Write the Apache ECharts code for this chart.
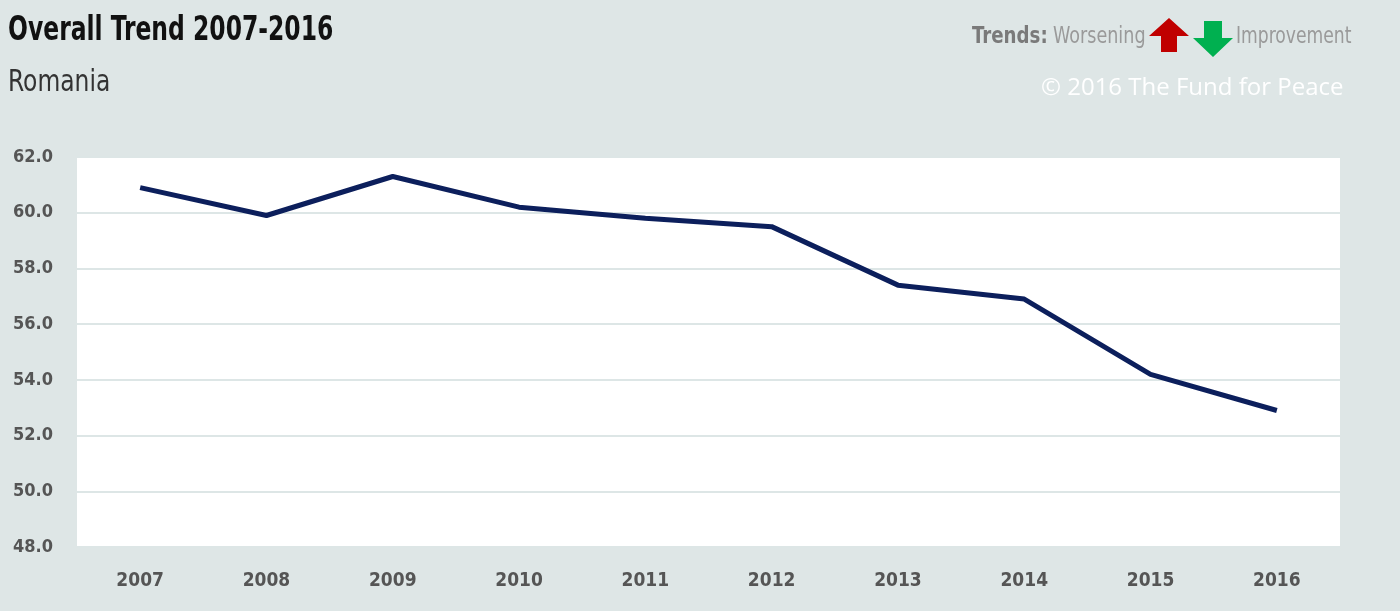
<!DOCTYPE html>
<html>
<head>
<meta charset="utf-8">
<script src="https://cdn.jsdelivr.net/npm/echarts@6/dist/echarts.min.js"></script>
<style>
html,body{margin:0;padding:0;background:#dee6e6;}
#c{width:1400px;height:611px;}
</style>
</head>
<body>
<div id="c"></div>
<script>
const years = ['2007','2008','2009','2010','2011','2012','2013','2014','2015','2016'];
const scores = [60.9, 59.9, 61.3, 60.2, 59.8, 59.5, 57.4, 56.9, 54.2, 52.9];
const yTicks = {min: 48, max: 62, interval: 2};

const narrow = '"DejaVu Sans Condensed", "Liberation Sans Narrow", sans-serif';
function txt(text, x, y, sx, size, weight, color, family) {
  return {type: 'text', x: x, y: y, scaleX: sx,
    style: {text: text, x: 0, y: 0, verticalAlign: 'top', align: 'left',
      fontFamily: family || narrow, fontWeight: weight, fontSize: size, fill: color}};
}
const chart = echarts.init(document.getElementById('c'));
chart.setOption({
  backgroundColor: '#dee6e6',
  animation: false,
  graphic: [
    txt('Overall Trend 2007-2016', 8, 15, 0.79, 33, 'bold', '#111'),
    txt('Romania', 8, 67, 0.84, 31, 'normal', '#333'),
    txt('Trends:', 972, 26, 0.88, 23, 'bold', '#7a7a7a'),
    txt('Worsening', 1053, 26, 0.85, 23, 'normal', '#9a9a9a'),
    txt('Improvement', 1236, 26, 0.83, 23, 'normal', '#9a9a9a'),
    txt('© 2016 The Fund for Peace', 1041, 76, 1, 24, 'normal', '#ffffff', '"Open Sans", sans-serif'),
    {type: 'polygon', shape: {points: [[1169,18],[1189,36],[1177,36],[1177,52],[1161,52],[1161,36],[1149,36]]},
     style: {fill: '#c00000'}},
    {type: 'polygon', shape: {points: [[1204,21],[1222,21],[1222,38],[1233,38],[1213,57],[1193,38],[1204,38]]},
     style: {fill: '#00b050'}}
  ],
  grid: {left: 77, right: 60, top: 157, bottom: 64, show: true, backgroundColor: '#ffffff', borderWidth: 0},
  xAxis: {
    type: 'category', data: years, boundaryGap: true,
    axisLine: {show: false}, axisTick: {show: false},
    axisLabel: {fontFamily: narrow, fontWeight: 'bold', fontSize: 19, color: '#555', margin: 25}
  },
  yAxis: {
    type: 'value', min: yTicks.min, max: yTicks.max, interval: yTicks.interval,
    axisLine: {show: false}, axisTick: {show: false},
    splitLine: {lineStyle: {color: '#dde6e6', width: 2}},
    axisLabel: {fontFamily: narrow, fontWeight: 'bold', fontSize: 18, color: '#555', margin: 24,
      formatter: v => v.toFixed(1)}
  },
  series: [{
    type: 'line', data: scores, showSymbol: false, symbol: 'none',
    lineStyle: {color: '#0c1f5c', width: 5}
  }]
});
</script>
</body>
</html>
